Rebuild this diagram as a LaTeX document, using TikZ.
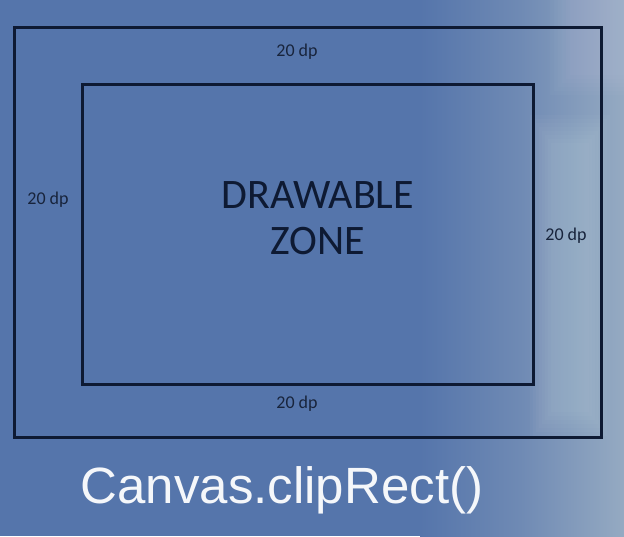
\documentclass[tikz,border=0pt]{standalone}
\usepackage{fontspec}
\setmainfont{Carlito}
\newfontfamily\captionfont{Liberation Sans}
\usetikzlibrary{positioning}
\definecolor{slideblue}{HTML}{5575AB}
\definecolor{midhaze}{HTML}{6F8AB4}
\definecolor{hazeblue}{HTML}{95AAC2}
\definecolor{framenavy}{HTML}{0E1A33}
\definecolor{dptext}{HTML}{18243C}

\begin{document}
\begin{tikzpicture}[x=1pt, y=-1pt,
    frame/.style={draw=framenavy, line width=3pt},
    dplabel/.style={text=dptext, font=\fontsize{18}{20}\selectfont, inner sep=0pt}]
  \useasboundingbox (0,0) rectangle (624,536);
  % blurred slide background
  \fill[slideblue] (0,0) rectangle (624,536);
  \shade[left color=slideblue, right color=midhaze] (420,0) rectangle (520,536);
  \shade[left color=midhaze, right color=hazeblue] (520,0) rectangle (624,536);
  \foreach \k in {0,...,7}
    \fill[white, opacity=0.025] (530+3*\k,115+4*\k) rectangle (610-3*\k,440-4*\k);
  \foreach \k in {0,...,5}
    \fill[white, opacity=0.02] (550+4*\k,0) rectangle (624,95-4*\k);
  % outer canvas and drawable zone
  \draw[frame] (14,27) rectangle (601,437);
  \draw[frame] (82,84) rectangle (533,384);
  \node[dplabel] (top) at (297,52) {20 dp};
  \node[dplabel] (left) at (48,200) {20 dp};
  \node[dplabel] (right) at (566,236) {20 dp};
  \node[dplabel] (bottom) at (297,404) {20 dp};
  \node[text=framenavy, font=\fontsize{42}{46}\selectfont, align=center] (zone) at (318,218)
    {DRAWABLE\\ZONE};
  \node[text=white!94!slideblue, font=\captionfont\fontsize{51}{56}\selectfont] (call) at (282,490)
    {Canvas.clipRect()};
\end{tikzpicture}
\end{document}
